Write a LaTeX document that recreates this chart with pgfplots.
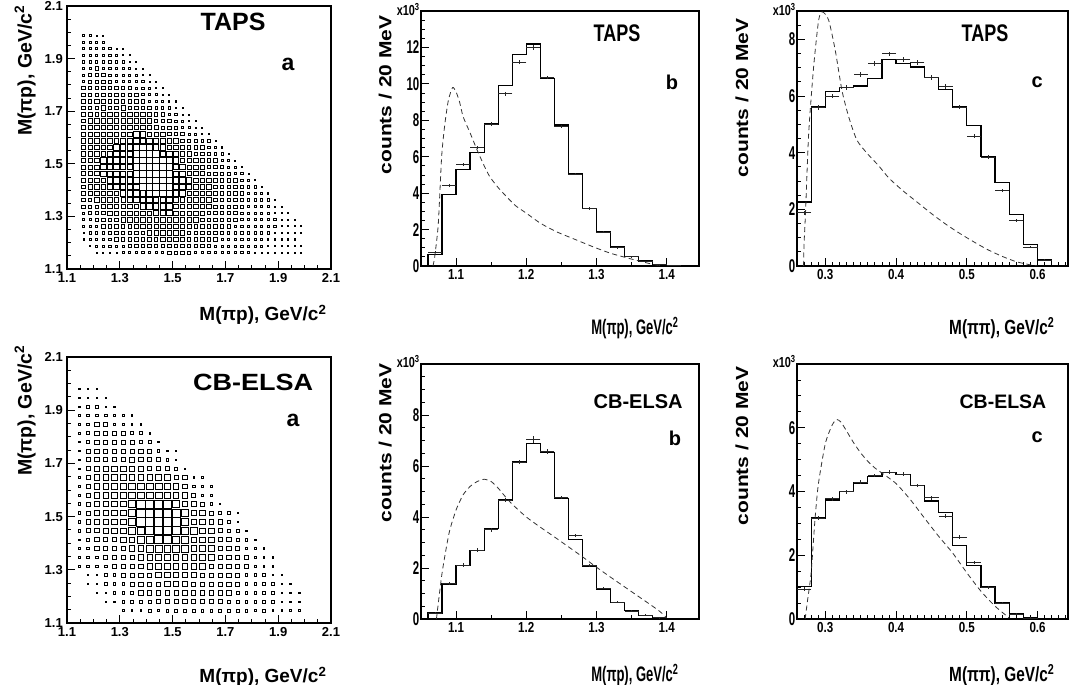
\documentclass[border=0pt]{standalone}
\usepackage{fontspec}
\setmainfont{Liberation Sans}
\newfontfamily\nfont{Liberation Sans}[FakeStretch=0.75]
\newfontfamily\mfont{Liberation Sans}[FakeStretch=0.8]
\newfontfamily\cfont{Liberation Sans}[FakeStretch=0.62]
\newfontfamily\wfont{Liberation Sans}[FakeStretch=1.15]
\newfontfamily\vfont{Liberation Sans}[FakeStretch=1.2]
\usepackage{pgfplots}
\usepackage{pgfplotstable}
\pgfplotsset{compat=1.18}
\newcommand{\fs}[1]{\fontsize{#1}{#1}\selectfont}
\tikzset{x10/.style={anchor=base east, inner sep=0pt, font=\nfont\bfseries\fs{14.5}}}

\pgfplotstableread{
y c0 c1 c2 c3 c4 c5 c6 c7 c8 c9 c10 c11 c12 c13 c14 c15 c16 c17 c18 c19 c20 c21 c22 c23 c24 c25 c26 c27 c28 c29 c30 c31 c32 c33
1.9875 2 2 1 1 0 0 0 0 0 0 0 0 0 0 0 0 0 0 0 0 0 0 0 0 0 0 0 0 0 0 0 0 0 0
1.9625 2 2 2 2 0 0 0 0 0 0 0 0 0 0 0 0 0 0 0 0 0 0 0 0 0 0 0 0 0 0 0 0 0 0
1.9375 2 2 2 2 2 1 1 0 0 0 0 0 0 0 0 0 0 0 0 0 0 0 0 0 0 0 0 0 0 0 0 0 0 0
1.9125 2 2 2 2 2 2 1 1 0 0 0 0 0 0 0 0 0 0 0 0 0 0 0 0 0 0 0 0 0 0 0 0 0 0
1.8875 2 2 2 2 2 2 2 1 1 0 0 0 0 0 0 0 0 0 0 0 0 0 0 0 0 0 0 0 0 0 0 0 0 0
1.8625 2 2 3 2 2 2 2 2 1 1 0 0 0 0 0 0 0 0 0 0 0 0 0 0 0 0 0 0 0 0 0 0 0 0
1.8375 2 3 3 3 2 2 2 2 2 1 1 0 0 0 0 0 0 0 0 0 0 0 0 0 0 0 0 0 0 0 0 0 0 0
1.8125 2 3 3 3 3 2 2 2 2 2 1 1 0 0 0 0 0 0 0 0 0 0 0 0 0 0 0 0 0 0 0 0 0 0
1.7875 3 3 3 3 3 3 3 3 2 2 2 1 1 0 0 0 0 0 0 0 0 0 0 0 0 0 0 0 0 0 0 0 0 0
1.7625 3 3 3 3 3 3 3 3 3 2 2 2 1 1 0 0 0 0 0 0 0 0 0 0 0 0 0 0 0 0 0 0 0 0
1.7375 3 3 4 3 3 3 3 3 3 3 2 2 2 1 1 0 0 0 0 0 0 0 0 0 0 0 0 0 0 0 0 0 0 0
1.7125 3 3 3 4 3 3 4 3 3 3 3 2 2 2 1 1 0 0 0 0 0 0 0 0 0 0 0 0 0 0 0 0 0 0
1.6875 3 4 3 4 4 4 4 4 3 4 3 3 3 2 2 1 1 0 0 0 0 0 0 0 0 0 0 0 0 0 0 0 0 0
1.6625 3 4 4 4 4 4 4 4 4 4 4 3 3 3 2 2 1 1 0 0 0 0 0 0 0 0 0 0 0 0 0 0 0 0
1.6375 4 4 4 4 4 4 4 4 4 4 4 4 3 3 3 2 2 1 1 0 0 0 0 0 0 0 0 0 0 0 0 0 0 0
1.6125 4 4 4 4 4 4 4 4 5 5 4 4 4 3 3 3 2 2 1 1 0 0 0 0 0 0 0 0 0 0 0 0 0 0
1.5875 4 4 4 4 4 4 5 5 5 5 5 5 4 4 4 3 3 3 2 2 1 0 0 0 0 0 0 0 0 0 0 0 0 0
1.5625 4 4 4 4 4 5 5 5 5 6 6 5 5 4 4 4 3 3 3 2 2 1 0 0 0 0 0 0 0 0 0 0 0 0
1.5375 4 4 4 4 5 5 5 5 6 6 6 6 5 5 4 4 4 3 3 3 2 2 1 0 0 0 0 0 0 0 0 0 0 0
1.5125 4 4 4 5 5 5 5 5 6 6 6 6 6 5 5 4 4 4 3 3 3 2 2 1 0 0 0 0 0 0 0 0 0 0
1.4875 4 4 4 5 5 5 5 5 6 6 6 6 6 6 5 5 4 4 4 3 3 3 2 2 1 0 0 0 0 0 0 0 0 0
1.4625 4 4 4 5 5 5 5 5 6 6 6 6 6 6 5 5 4 4 4 3 3 3 3 2 2 1 0 0 0 0 0 0 0 0
1.4375 4 4 4 4 5 5 5 5 5 6 6 6 6 6 5 5 5 4 4 4 3 3 3 3 2 2 1 0 0 0 0 0 0 0
1.4125 3 4 4 4 4 5 5 5 5 6 6 6 6 6 5 5 5 4 4 4 3 3 3 3 3 2 2 1 0 0 0 0 0 0
1.3875 3 4 4 4 4 4 5 5 5 5 6 6 6 5 5 5 4 4 4 4 3 3 3 3 3 2 2 2 1 0 0 0 0 0
1.3625 3 3 4 4 4 4 4 5 5 5 5 5 5 5 5 4 4 4 4 4 3 3 3 3 3 2 2 2 2 1 0 0 0 0
1.3375 3 3 3 4 4 4 4 4 4 5 5 5 5 5 4 4 4 4 4 4 3 3 3 3 3 2 2 2 2 1 1 0 0 0
1.3125 2 3 3 3 4 4 4 4 4 4 4 5 5 5 4 4 4 4 4 3 3 3 3 3 2 2 2 2 2 1 1 1 0 0
1.2875 2 2 3 3 3 3 4 4 4 4 4 4 4 4 4 4 4 4 3 3 3 3 3 3 2 2 2 2 2 2 1 1 1 0
1.2625 2 2 2 3 3 3 3 3 4 4 4 4 4 4 4 4 4 3 3 3 3 3 3 2 2 2 2 2 2 2 1 1 1 1
1.2375 1 2 2 2 3 3 3 3 3 3 4 4 4 4 4 4 3 3 3 3 3 3 2 2 2 2 2 2 2 1 1 1 1 1
1.2125 1 2 2 2 2 3 3 3 3 3 3 3 4 4 4 3 3 3 3 3 3 2 2 2 2 2 2 2 1 1 1 1 1 0
1.1875 0 1 2 2 2 2 2 3 3 3 3 3 3 3 3 3 3 3 3 3 2 2 2 2 2 2 2 2 1 1 1 1 1 1
1.1625 0 0 1 1 1 1 2 2 2 2 2 2 2 3 3 3 3 2 2 2 2 2 2 2 2 2 1 1 1 1 1 1 1 1
}\tapsdal

\pgfplotstableread{
y c0 c1 c2 c3 c4 c5 c6 c7 c8 c9 c10 c11 c12 c13 c14 c15 c16 c17 c18 c19 c20 c21 c22 c23 c24 c25
1.98 1 1 1 0 0 0 0 0 0 0 0 0 0 0 0 0 0 0 0 0 0 0 0 0 0 0
1.9467 1 1 1 1 0 0 0 0 0 0 0 0 0 0 0 0 0 0 0 0 0 0 0 0 0 0
1.9133 1 2 2 1 1 0 0 0 0 0 0 0 0 0 0 0 0 0 0 0 0 0 0 0 0 0
1.88 1 2 2 2 2 1 1 0 0 0 0 0 0 0 0 0 0 0 0 0 0 0 0 0 0 0
1.8467 1 2 3 3 2 2 1 1 0 0 0 0 0 0 0 0 0 0 0 0 0 0 0 0 0 0
1.8133 1 2 3 3 3 3 2 2 1 0 0 0 0 0 0 0 0 0 0 0 0 0 0 0 0 0
1.78 1 2 3 3 3 3 3 2 2 1 0 0 0 0 0 0 0 0 0 0 0 0 0 0 0 0
1.7467 1 3 3 3 3 3 3 3 3 2 1 1 0 0 0 0 0 0 0 0 0 0 0 0 0 0
1.7133 1 3 3 3 3 3 4 3 3 3 2 1 0 0 0 0 0 0 0 0 0 0 0 0 0 0
1.68 1 3 4 4 4 4 4 4 3 3 3 2 1 0 0 0 0 0 0 0 0 0 0 0 0 0
1.6467 1 3 4 4 4 4 4 4 4 4 4 3 3 1 1 0 0 0 0 0 0 0 0 0 0 0
1.6133 2 3 4 4 4 4 5 5 5 5 4 4 3 2 1 1 0 0 0 0 0 0 0 0 0 0
1.58 2 3 4 4 4 4 5 5 5 5 5 4 4 3 2 1 0 0 0 0 0 0 0 0 0 0
1.5467 2 3 4 4 4 4 5 6 6 6 6 5 4 4 3 2 1 0 0 0 0 0 0 0 0 0
1.5133 2 3 4 4 4 4 5 6 6 6 6 6 5 4 4 3 2 2 1 0 0 0 0 0 0 0
1.48 2 3 4 4 4 4 5 6 6 6 6 6 5 4 4 3 3 2 1 0 0 0 0 0 0 0
1.4467 2 3 3 4 4 4 5 5 6 6 6 6 5 5 4 4 3 2 2 1 0 0 0 0 0 0
1.4133 1 2 3 3 3 4 4 5 5 6 6 5 5 4 4 4 3 3 2 2 1 0 0 0 0 0
1.38 1 2 3 3 3 3 4 4 5 5 5 5 5 4 4 4 3 3 3 2 2 1 0 0 0 0
1.3467 1 2 2 3 3 3 3 4 4 4 4 4 4 4 4 4 3 3 3 3 2 1 1 0 0 0
1.3133 1 2 2 2 3 3 3 3 4 4 4 4 4 4 4 3 3 3 3 3 2 1 1 0 0 0
1.28 0 1 1 2 2 3 3 3 3 4 4 4 4 4 3 3 3 3 3 2 2 2 1 1 0 0
1.2467 0 1 1 2 2 2 3 3 3 3 4 4 4 3 3 3 3 3 3 2 2 2 2 1 1 0
1.2133 0 0 1 1 2 2 2 3 3 3 3 3 3 3 3 3 3 3 2 2 2 2 2 1 1 1
1.18 0 0 0 1 1 2 2 2 2 3 3 3 3 3 3 3 3 2 2 2 2 2 2 1 1 1
1.1467 0 0 0 0 0 1 1 1 2 1 2 2 2 2 2 2 2 2 2 2 1 2 1 1 1 1
}\cbdal

\pgfplotsset{
  rootaxis/.style={
    scale only axis, anchor=south west,
    tick align=inside, tick pos=left,
    major tick length=8pt, minor tick length=4pt,
    axis line style={line width=1.1pt},
    every tick/.style={line width=0.8pt, black},
    /pgf/number format/assume math mode=true,
  },
  dalaxis/.style={rootaxis,
    xmin=1.1, xmax=2.1, ymin=1.1, ymax=2.1,
    xtick={1.1,1.3,1.5,1.7,1.9,2.1}, ytick={1.1,1.3,1.5,1.7,1.9,2.1},
    minor xtick={1.15,1.2,1.25,1.35,1.4,1.45,1.55,1.6,1.65,1.75,1.8,1.85,1.95,2.0,2.05},
    minor ytick={1.15,1.2,1.25,1.35,1.4,1.45,1.55,1.6,1.65,1.75,1.8,1.85,1.95,2.0,2.05},
    xticklabel style={font=\bfseries\fs{13}, inner sep=3pt, yshift=-1.5pt, /pgf/number format/.cd, fixed, fixed zerofill, precision=1},
    yticklabel style={font=\bfseries\fs{13}, inner sep=4pt, /pgf/number format/.cd, fixed, fixed zerofill, precision=1},
    xlabel={M(πp), GeV/c\textsuperscript{2}},
    ylabel={M(πp), GeV/c\textsuperscript{2}},
    xlabel style={font=\bfseries\fs{19}, anchor=east},
    ylabel style={font=\bfseries\fs{19.5}, anchor=east},
  },
  histaxis/.style={rootaxis,
    ymin=0,
    ylabel={counts / 20 MeV},
    ylabel style={font=\vfont\bfseries\fs{17.5}, anchor=east},
    yticklabel style={font=\cfont\bfseries\fs{18.5}, inner sep=1.5pt},
    xticklabel style={font=\mfont\bfseries\fs{14.5}, /pgf/number format/.cd, fixed, fixed zerofill, precision=1},
  },
  paxis/.style={histaxis, xmin=1.05, xmax=1.446,
    xtick={1.1,1.2,1.3,1.4}, minor xtick={1.05,1.15,1.25,1.35,1.45},
    xlabel={M(πp), GeV/c\textsuperscript{2}},
    xlabel style={font=\cfont\bfseries\fs{21}, anchor=east},
  },
  pipiaxis/.style={histaxis, xmin=0.26, xmax=0.643,
    xtick={0.3,0.4,0.5,0.6},
    minor xtick={0.27,0.28,0.29,0.31,0.32,0.33,0.34,0.35,0.36,0.37,0.38,0.39,0.41,0.42,0.43,0.44,0.45,0.46,0.47,0.48,0.49,0.51,0.52,0.53,0.54,0.55,0.56,0.57,0.58,0.59,0.61,0.62,0.63,0.64},
    xlabel={M(ππ), GeV/c\textsuperscript{2}},
    xlabel style={font=\nfont\bfseries\fs{20.5}, anchor=east},
  },
  histline/.style={const plot, line width=1.3pt, black},
  dataerr/.style={only marks, mark=-, mark size=#1,
    mark options={line width=0.8pt, draw=black!85},
    error bars/.cd, y dir=both, y explicit,
    error mark=none, error bar style={line width=0.7pt, black!85}},
  curve/.style={smooth, tension=0.4, dash pattern=on 5pt off 3.5pt, line width=0.8pt, black!80},
}

\begin{document}
\begin{tikzpicture}
\path[use as bounding box] (0pt,0pt) rectangle (1071pt,685pt);

% ---------------- top a : TAPS Dalitz
\begin{axis}[dalaxis, at={(67pt,416pt)}, width=264pt, height=263pt,
  xlabel style={at={(axis description cs:0.996,-0.175)}},
  ylabel style={at={(axis description cs:-0.159,1.015)}},
  extra description/.code={
    \node[font=\bfseries\fs{25}] at (0.629,0.939) {TAPS};
    \node[font=\bfseries\fs{23}] at (0.837,0.776) {a};
  }]
\pgfplotsinvokeforeach{0,...,33}{
  \addplot[scatter, only marks, mark=square, mark options={line width=0.75pt},
    scatter/use mapped color={draw=black, fill=none},
    visualization depends on={\thisrow{c#1} \as \lev},
    scatter/@pre marker code/.append style={/tikz/mark size=0.55*\lev},
    restrict expr to domain={\thisrow{c#1}}{0.5:10}]
  table[x expr={1.1625+0.025*#1}, y=y]{\tapsdal};
}
\end{axis}

% ---------------- top b : TAPS M(pi p)
\begin{axis}[paxis, at={(421pt,419pt)}, width=278pt, height=255pt,
  ymax=14, ytick={0,2,4,6,8,10,12}, minor ytick={0.5,1,...,14},
  xlabel style={at={(axis description cs:0.939,-0.243)}},
  ylabel style={at={(axis description cs:-0.129,0.996)}},
  extra description/.code={
    \node[font=\nfont\bfseries\fs{24}] at (0.705,0.914) {TAPS};
    \node[font=\bfseries\fs{20}] at (0.903,0.722) {b};
    \node[x10] at (-0.004,0.982) {x10\textsuperscript{3}};
  }]
\addplot[histline] coordinates {(1.06,0) (1.06,0.65) (1.08,3.93) (1.10,5.28) (1.12,6.25) (1.14,7.80) (1.16,9.92) (1.18,11.63) (1.20,12.18) (1.22,10.30) (1.24,7.74) (1.26,5.05) (1.28,3.17) (1.30,1.86) (1.32,1.04) (1.34,0.53) (1.36,0.27) (1.38,0.09) (1.40,0.04) (1.42,0)};
\addplot[dataerr=7.03pt] table[x=x, y=y, y error=e] {
x y e
1.07 0.75 0.05
1.09 4.40 0.09
1.11 5.58 0.10
1.13 6.50 0.10
1.15 7.80 0.10
1.17 9.45 0.10
1.19 11.20 0.12
1.21 12.00 0.12
1.23 10.35 0.10
1.25 7.65 0.10
1.27 5.05 0.08
1.29 3.15 0.07
1.31 1.85 0.06
1.33 1.00 0.05
1.35 0.50 0.04
1.37 0.25 0.03
1.39 0.07 0.03
1.41 0.05 0.03
};
\addplot[curve] coordinates {(1.067,0) (1.0695,0.5) (1.0746,2.3) (1.0794,6.0) (1.084,7.8) (1.089,9.1) (1.095,9.8) (1.100,9.55) (1.105,9.0) (1.11,8.2) (1.12,7.3) (1.13,6.36) (1.14,5.5) (1.148,4.9) (1.16,4.3) (1.172,3.8) (1.185,3.3) (1.20,2.9) (1.22,2.35) (1.243,1.88) (1.27,1.45) (1.296,1.04) (1.32,0.7) (1.348,0.4) (1.376,0.13) (1.39,0.02)};
\end{axis}

% ---------------- top c : TAPS M(pi pi)
\begin{axis}[pipiaxis, at={(797pt,419pt)}, width=271pt, height=255pt,
  ymax=9, ytick={0,2,4,6,8}, minor ytick={0.5,1,...,9},
  xlabel style={at={(axis description cs:0.963,-0.243)}},
  ylabel style={at={(axis description cs:-0.203,0.984)}},
  extra description/.code={
    \node[font=\nfont\bfseries\fs{24}] at (0.694,0.914) {TAPS};
    \node[font=\bfseries\fs{20}] at (0.886,0.722) {c};
    \node[x10] at (-0.004,0.982) {x10\textsuperscript{3}};
  }]
\addplot[histline] coordinates {(0.26,0) (0.26,2.26) (0.28,5.61) (0.30,6.16) (0.32,6.29) (0.34,6.35) (0.36,6.61) (0.38,7.28) (0.40,7.14) (0.42,7.02) (0.44,6.65) (0.46,6.22) (0.48,5.61) (0.50,4.96) (0.52,3.87) (0.54,2.94) (0.56,1.81) (0.58,0.76) (0.60,0.22) (0.62,0)};
\addplot[dataerr=7.08pt] table[x=x, y=y, y error=e] {
x y e
0.27 1.88 0.07
0.29 5.60 0.08
0.31 6.00 0.08
0.33 6.30 0.08
0.35 6.75 0.08
0.37 7.14 0.08
0.39 7.49 0.08
0.41 7.29 0.08
0.43 7.19 0.08
0.45 6.65 0.08
0.47 6.34 0.08
0.49 5.61 0.08
0.51 4.59 0.07
0.53 3.85 0.07
0.55 2.67 0.06
0.57 1.61 0.05
0.59 0.67 0.04
0.61 0.20 0.03
};
\addplot[curve] coordinates {(0.2693,0) (0.2700,0.8) (0.272,1.86) (0.2765,4.68) (0.2835,7.03) (0.2906,8.68) (0.2960,8.97) (0.3047,8.68) (0.314,7.62) (0.3235,6.2) (0.333,5.27) (0.3447,4.44) (0.36,3.95) (0.375,3.55) (0.39,3.1) (0.41,2.65) (0.43,2.25) (0.45,1.85) (0.47,1.48) (0.49,1.15) (0.51,0.85) (0.53,0.57) (0.55,0.34) (0.57,0.15) (0.59,0.04) (0.60,0)};
\end{axis}

% ---------------- bottom a : CB-ELSA Dalitz
\begin{axis}[dalaxis, at={(67pt,62pt)}, width=264pt, height=266pt,
  xlabel style={at={(axis description cs:0.996,-0.203)}},
  ylabel style={at={(axis description cs:-0.159,1.056)}},
  extra description/.code={
    \node[font=\wfont\bfseries\fs{23.5}] at (0.705,0.906) {CB-ELSA};
    \node[font=\bfseries\fs{23}] at (0.856,0.763) {a};
  }]
\pgfplotsinvokeforeach{0,...,25}{
  \addplot[scatter, only marks, mark=square, mark options={line width=0.8pt},
    scatter/use mapped color={draw=black, fill=none},
    visualization depends on={\thisrow{c#1} \as \lev},
    scatter/@pre marker code/.append style={/tikz/mark size=0.68*\lev},
    restrict expr to domain={\thisrow{c#1}}{0.5:10}]
  table[x expr={1.1467+0.033333*#1}, y=y]{\cbdal};
}
\end{axis}

% ---------------- bottom b : CB-ELSA M(pi p)
\begin{axis}[paxis, at={(421pt,66pt)}, width=278pt, height=255pt,
  ymax=10, ytick={0,2,4,6,8}, minor ytick={0.5,1,...,10},
  xlabel style={at={(axis description cs:0.939,-0.22)}},
  ylabel style={at={(axis description cs:-0.129,1.016)}},
  extra description/.code={
    \node[font=\bfseries\fs{20}] at (0.781,0.851) {CB-ELSA};
    \node[font=\bfseries\fs{20}] at (0.914,0.71) {b};
    \node[x10] at (-0.004,0.985) {x10\textsuperscript{3}};
  }]
\addplot[histline] coordinates {(1.06,0) (1.06,0.23) (1.08,1.37) (1.10,2.10) (1.12,2.69) (1.14,3.56) (1.16,4.67) (1.18,6.16) (1.20,6.87) (1.22,6.54) (1.24,4.73) (1.26,3.12) (1.28,2.08) (1.30,1.18) (1.32,0.64) (1.34,0.33) (1.36,0.13) (1.38,0.07) (1.40,0)};
\addplot[dataerr=7.03pt] table[x=x, y=y, y error=e] {
x y e
1.07 0.23 0.04
1.09 1.41 0.06
1.11 2.12 0.07
1.13 2.70 0.07
1.15 3.50 0.07
1.17 4.67 0.07
1.19 6.15 0.08
1.21 7.05 0.14
1.23 6.57 0.08
1.25 4.77 0.07
1.27 3.27 0.07
1.29 2.09 0.06
1.31 1.21 0.05
1.33 0.65 0.04
1.35 0.30 0.04
1.37 0.15 0.03
1.39 0.05 0.03
};
\addplot[curve] coordinates {(1.072,0) (1.08,1.8) (1.09,3.37) (1.10,4.28) (1.11,4.87) (1.12,5.2) (1.13,5.39) (1.14,5.48) (1.15,5.39) (1.16,5.13) (1.17,4.8) (1.18,4.5) (1.20,4.0) (1.22,3.6) (1.24,3.22) (1.26,2.83) (1.28,2.44) (1.30,2.03) (1.32,1.64) (1.34,1.26) (1.36,0.88) (1.38,0.5) (1.39,0.3) (1.40,0.05)};
\end{axis}

% ---------------- bottom c : CB-ELSA M(pi pi)
\begin{axis}[pipiaxis, at={(797pt,66pt)}, width=271pt, height=255pt,
  ymax=8, ytick={0,2,4,6}, minor ytick={0.5,1,...,8},
  xlabel style={at={(axis description cs:0.963,-0.22)}},
  ylabel style={at={(axis description cs:-0.203,1.004)}},
  extra description/.code={
    \node[font=\bfseries\fs{19.5}] at (0.760,0.851) {CB-ELSA};
    \node[font=\bfseries\fs{20}] at (0.886,0.714) {c};
    \node[x10] at (-0.004,0.985) {x10\textsuperscript{3}};
  }]
\addplot[histline] coordinates {(0.26,0) (0.26,1.03) (0.28,3.17) (0.30,3.73) (0.32,3.99) (0.34,4.27) (0.36,4.48) (0.38,4.59) (0.40,4.53) (0.42,4.19) (0.44,3.70) (0.46,3.35) (0.48,2.31) (0.50,1.68) (0.52,1.00) (0.54,0.50) (0.56,0.17) (0.58,0.04) (0.60,0)};
\addplot[dataerr=7.08pt] table[x=x, y=y, y error=e] {
x y e
0.27 0.94 0.05
0.29 3.17 0.06
0.31 3.77 0.06
0.33 3.99 0.06
0.35 4.29 0.06
0.37 4.50 0.06
0.39 4.61 0.06
0.41 4.55 0.06
0.43 4.19 0.06
0.45 3.80 0.06
0.47 3.23 0.06
0.49 2.57 0.06
0.51 1.78 0.05
0.53 1.00 0.05
0.55 0.50 0.04
0.57 0.15 0.03
0.59 0.03 0.03
};
\addplot[curve] coordinates {(0.2715,0) (0.275,0.6) (0.28,1.45) (0.285,3.0) (0.29,4.2) (0.30,5.5) (0.31,6.1) (0.316,6.26) (0.322,6.18) (0.33,5.9) (0.34,5.53) (0.35,5.21) (0.36,4.95) (0.37,4.74) (0.38,4.58) (0.40,4.25) (0.42,3.75) (0.44,3.17) (0.46,2.6) (0.48,2.07) (0.50,1.45) (0.52,0.87) (0.54,0.4) (0.56,0.03)};
\end{axis}
\end{tikzpicture}
\end{document}
